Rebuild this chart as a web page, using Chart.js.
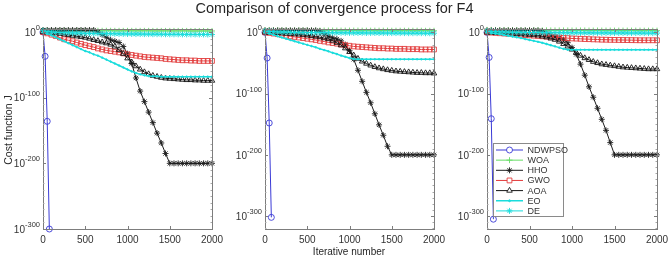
<!DOCTYPE html>
<html>
<head>
<meta charset="utf-8">
<script src="https://cdn.jsdelivr.net/npm/chart.js@4.4.1/dist/chart.umd.min.js"></script>
<style>
  body { margin: 0; background: #fff; }
  #wrap { position: relative; width: 669px; height: 257px; overflow: hidden; font-family: "Liberation Sans", Arial, sans-serif; color: #262626; }
  #wrap canvas { position: absolute; left: 0; top: 0; }
  .lbl { position: absolute; white-space: nowrap; }
  #title { left: 0; top: 0; width: 669px; text-align: center; font-size: 14.5px; }
  #xlabel { left: 289px; top: 245.5px; width: 120px; text-align: center; font-size: 10px; line-height: 11px; }
  #ylabel { left: -52px; top: 124px; width: 120px; text-align: center; font-size: 10.5px; transform: rotate(-90deg); }
</style>
</head>
<body>
<div id="wrap">
  <canvas id="run1" width="669" height="257"></canvas>
  <canvas id="run2" width="669" height="257"></canvas>
  <canvas id="run3" width="669" height="257"></canvas>
  <div class="lbl" id="title">Comparison of convergence process for F4</div>
  <div class="lbl" id="xlabel">Iterative number</div>
  <div class="lbl" id="ylabel">Cost function J</div>
</div>
<script>
// iterations where the curves are sampled (markers drawn at each)
const iterations = [0,50,100,150,200,250,300,350,400,450,500,550,600,650,700,750,800,850,900,950,1000,
  1050,1100,1150,1200,1250,1300,1350,1400,1450,1500,1550,1600,1650,1700,1750,1800,1850,1900,1950,2000];
const ndwpsoIterations = [0, 25, 50, 75];

const xTicks = [0, 500, 1000, 1500, 2000];
const yTickExponents = [0, -100, -200, -300];

const algorithms = ['NDWPSO', 'WOA', 'HHO', 'GWO', 'AOA', 'EO', 'DE'];

// values are log10 of the cost function J
// ---- run 1 (left panel)
const run1NDWPSO = [0, -37, -136, -300];
const run1WOA = [2.5,2.4,2.3,2.2,2.2,2.1,2.1,2.0,2.0,2.0, 2.0,1.9,1.9,1.9,1.9,1.9,1.9,1.8,1.8,1.8,
  1.8,1.8,1.8,1.8,1.8,1.8,1.7,1.7,1.7,1.7, 1.7,1.7,1.7,1.7,1.7,1.6,1.6,1.6,1.6,1.6, 1.6];
const run1HHO = [3,3,3,3,3,3,3,3,3,3, 3,3,3,0,-4,-8,-12,-14,-16,-22,
  -33,-48,-70,-90,-106,-122,-138,-154,-169,-185, -200,-200,-200,-200,-200,-200,-200,-200,-200,-200, -200];
const run1GWO = [0,-2,-4,-6,-8.5,-11,-12.5,-14,-16,-18, -20,-21.5,-23,-25,-26.5,-28,-29,-30,-31,-32.5,
  -34,-35,-36,-37,-38,-38.5,-39,-39.5,-40,-41, -41.5,-42,-42.5,-43,-43,-43.5,-43.5,-44,-44,-44, -44];
const run1AOA = [0,-0.5,-1,-1.5,-2.5,-3.5,-4.5,-5.5,-6.5,-7.5, -8.5,-10,-12,-13.5,-15.5,-17,-19,-22,-27,-33,
  -40,-46,-52,-57,-61,-64,-66.5,-68,-69.5,-70.5, -71,-71.5,-72,-72.5,-73,-73,-73.5,-73.5,-74,-74, -74];
const run1EO = [0,-2.5,-5,-8,-11,-14,-17,-20,-23,-26, -29,-31,-34,-36,-39,-42,-45,-48,-51,-54,
  -57,-60,-62.5,-64.5,-66,-67,-67.5,-67.5,-68,-68, -68,-68,-68,-68,-68,-68,-68,-68,-68,-68, -68];
const run1DE = [2,0.5,0,-0.5,-0.8,-1,-1.2,-1.4,-1.6,-1.8, -2,-2.1,-2.2,-2.3,-2.4,-2.5,-2.6,-2.7,-2.8,-2.9,
  -3,-3,-3.1,-3.1,-3.2,-3.2,-3.3,-3.3,-3.4,-3.4, -3.5,-3.5,-3.5,-3.6,-3.6,-3.6,-3.7,-3.7,-3.7,-3.8, -3.8];

// ---- run 2 (middle panel)
const run2NDWPSO = [0, -42, -148, -302];
const run2WOA = [3.5,3.4,3.3,3.3,3.2,3.2,3.1,3.1,3.0,3.0, 3.0,3.0,2.9,2.9,2.9,2.9,2.9,2.8,2.8,2.8,
  2.8,2.8,2.8,2.7,2.7,2.7,2.7,2.7,2.7,2.7, 2.6,2.6,2.6,2.6,2.6,2.6,2.6,2.6,2.5,2.5, 2.5];
const run2HHO = [3,3,3,3,3,3,3,3,3,3, 3,3,3,2,-2,-6,-9,-11,-14,-20,
  -30,-44,-62,-80,-98,-115,-133,-151,-168,-186, -200,-200,-200,-200,-200,-200,-200,-200,-200,-200, -200];
const run2GWO = [0,-1,-2,-3,-4.5,-5.5,-6.5,-7.5,-8.5,-9.5, -10.5,-11.5,-12.5,-14,-15,-16.5,-17.5,-18.5,-20,-21,
  -22,-23,-23.5,-24,-24.5,-25,-25.5,-26,-26,-26.5, -26.5,-27,-27,-27,-27.5,-27.5,-27.5,-28,-28,-28, -28];
const run2AOA = [0,-0.5,-0.5,-1,-1.5,-2,-2.5,-3,-3.5,-4, -5,-6,-7,-8,-9.5,-11,-13.5,-17,-21,-26,
  -32,-37.5,-43,-47.5,-51,-54,-56.5,-58.5,-60,-61.5, -62.5,-63.5,-64,-64.5,-65,-65.5,-66,-66,-66.5,-66.5, -67];
const run2EO = [0,-2,-4,-6.5,-8.5,-10.5,-12.5,-14.5,-16.5,-18.5, -20.5,-22.5,-24.5,-27,-29,-31,-33.5,-35.5,-38,-40,
  -42,-43.5,-44,-44,-44,-44,-44,-44,-44,-44, -44,-44,-44,-44,-44,-44,-44,-44,-44,-44, -44];
const run2DE = [2,1.5,1,0.6,0.4,0.2,0,-0.1,-0.2,-0.3, -0.4,-0.5,-0.5,-0.6,-0.6,-0.7,-0.7,-0.8,-0.8,-0.9,
  -0.9,-1,-1,-1,-1.1,-1.1,-1.1,-1.2,-1.2,-1.2, -1.3,-1.3,-1.3,-1.3,-1.4,-1.4,-1.4,-1.4,-1.5,-1.5, -1.5];

// ---- run 3 (right panel)
const run3NDWPSO = [0, -41, -141, -305];
const run3WOA = [4,3.9,3.8,3.7,3.6,3.5,3.5,3.4,3.4,3.3, 3.3,3.3,3.2,3.2,3.2,3.1,3.1,3.1,3.1,3.0,
  3.0,3.0,3.0,3.0,2.9,2.9,2.9,2.9,2.9,2.9, 2.8,2.8,2.8,2.8,2.8,2.8,2.8,2.7,2.7,2.7, 2.7];
const run3HHO = [3,3,3,3,3,3,3,3,3,3, 3,3,3,2,-1,-4,-7,-9,-12,-17,
  -25,-36,-52,-70,-89,-106,-124,-142,-160,-180, -200,-200,-200,-200,-200,-200,-200,-200,-200,-200, -200];
const run3GWO = [0,-0.5,-1,-1.5,-2,-2.5,-3,-3.5,-4,-4.5, -5,-5.5,-6,-6.5,-7,-7.5,-8,-8.5,-9,-9.5,
  -10,-10.3,-10.6,-11,-11.2,-11.5,-11.7,-12,-12.1,-12.3, -12.4,-12.5,-12.6,-12.7,-12.8,-12.9,-13,-13,-13,-13, -13];
const run3AOA = [0,-0.3,-0.6,-1,-1.3,-1.7,-2,-2.5,-3,-3.5, -4,-4.5,-5,-6.5,-8,-10,-12,-15,-19,-23,
  -28,-33,-38,-42,-45,-48,-50,-52,-53,-54, -55,-56,-57,-57.5,-58,-58.5,-59,-59.5,-60,-60, -60];
const run3EO = [0,-1,-2,-3.2,-4.5,-5.7,-7,-8.2,-9.5,-11, -12.5,-14,-15.5,-17.2,-19,-21,-23,-25,-27,-28.3,
  -28.5,-28.5,-28.5,-28.5,-28.5,-28.5,-28.5,-28.5,-28.5,-28.5, -28.5,-28.5,-28.5,-28.5,-28.5,-28.5,-28.5,-28.5,-28.5,-28.5, -28.5];
const run3DE = [2,1.4,1,0.7,0.5,0.3,0.1,0,-0.1,-0.2, -0.3,-0.4,-0.4,-0.5,-0.5,-0.6,-0.6,-0.7,-0.7,-0.8,
  -0.8,-0.8,-0.9,-0.9,-0.9,-1,-1,-1,-1,-1.1, -1.1,-1.1,-1.1,-1.2,-1.2,-1.2,-1.2,-1.3,-1.3,-1.3, -1.3];

const runs = [
  { id: 'run1', NDWPSO: run1NDWPSO, WOA: run1WOA, HHO: run1HHO, GWO: run1GWO, AOA: run1AOA, EO: run1EO, DE: run1DE },
  { id: 'run2', NDWPSO: run2NDWPSO, WOA: run2WOA, HHO: run2HHO, GWO: run2GWO, AOA: run2AOA, EO: run2EO, DE: run2DE },
  { id: 'run3', NDWPSO: run3NDWPSO, WOA: run3WOA, HHO: run3HHO, GWO: run3GWO, AOA: run3AOA, EO: run3EO, DE: run3DE }
];

// plot boxes (pixels) and y range (exponents) for each panel
const panels = [
  { left: 43, right: 212, top: 29, bottom: 229, yMin: -300, yMax: 4.6 },
  { left: 265, right: 434, top: 29, bottom: 229, yMin: -321, yMax: 5.4 },
  { left: 487, right: 657, top: 29, bottom: 229, yMin: -321, yMax: 5.4 }
];

const styles = {
  NDWPSO: { color: '#3a3ad6', pointStyle: 'circle', radius: 3, width: 1 },
  WOA:    { color: '#66dd66', pointStyle: 'cross', radius: 3, width: 1 },
  HHO:    { color: '#1c1c1c', pointStyle: 'star', radius: 3, width: 1 },
  GWO:    { color: '#e23c3c', pointStyle: 'rect', radius: 3.4, width: 1 },
  AOA:    { color: '#151515', pointStyle: 'triangle', radius: 3.2, width: 1 },
  EO:     { color: '#1adcdc', pointStyle: 'circle', radius: 0.8, width: 1.5, filled: true },
  DE:     { color: '#1adcdc', pointStyle: 'star', radius: 3, width: 1 }
};

const FONT = '"Liberation Sans", Arial, sans-serif';
const AXIS_COLOR = '#7d7d7d';
const TEXT_COLOR = '#333333';

const matlabAxes = {
  id: 'matlabAxes',
  afterDraw(chart) {
    const { ctx, chartArea: a } = chart;
    const x = chart.scales.x, y = chart.scales.y;
    ctx.save();
    ctx.strokeStyle = AXIS_COLOR;
    ctx.lineWidth = 1;
    ctx.strokeRect(a.left + 0.5, a.top + 0.5, a.right - a.left, a.bottom - a.top);
    ctx.beginPath();
    xTicks.forEach(v => {
      const px = Math.round(x.getPixelForValue(v)) + 0.5;
      ctx.moveTo(px, a.bottom); ctx.lineTo(px, a.bottom - 3);
      ctx.moveTo(px, a.top); ctx.lineTo(px, a.top + 3);
    });
    yTickExponents.forEach(v => {
      const py = Math.round(y.getPixelForValue(v)) + 0.5;
      ctx.moveTo(a.left, py); ctx.lineTo(a.left + 3, py);
      ctx.moveTo(a.right, py); ctx.lineTo(a.right - 3, py);
    });
    ctx.stroke();
    // minor ticks, every 10 decades
    ctx.beginPath();
    ctx.strokeStyle = '#a8a8a8';
    for (let e = 0; e >= y.min; e -= 10) {
      if (e % 100 === 0) continue;
      const py = Math.round(y.getPixelForValue(e)) + 0.5;
      ctx.moveTo(a.left, py); ctx.lineTo(a.left + 1.5, py);
      ctx.moveTo(a.right, py); ctx.lineTo(a.right - 1.5, py);
    }
    ctx.stroke();

    ctx.fillStyle = TEXT_COLOR;
    ctx.font = '10px ' + FONT;
    ctx.textAlign = 'center';
    ctx.textBaseline = 'middle';
    xTicks.forEach(v => ctx.fillText(String(v), x.getPixelForValue(v), a.bottom + 11.5));

    ctx.textAlign = 'right';
    yTickExponents.forEach(v => {
      const py = y.getPixelForValue(v);
      const sup = String(v);
      ctx.font = '7.5px ' + FONT;
      const sw = ctx.measureText(sup).width;
      ctx.fillText(sup, a.left - 3, py - 4);
      ctx.font = '10px ' + FONT;
      ctx.fillText('10', a.left - 3 - sw, py + 1);
    });
    ctx.restore();
  }
};

const legendBox = {
  id: 'legendBox',
  afterDraw(chart, args, opts) {
    if (!opts.show) return;
    const { ctx } = chart;
    const bx = 493.5, by = 143.5, bw = 70, bh = 73, rowH = 10.15;
    ctx.save();
    ctx.fillStyle = '#ffffff';
    ctx.fillRect(bx, by, bw, bh);
    ctx.strokeStyle = '#8a8a8a';
    ctx.lineWidth = 1;
    ctx.strokeRect(bx, by, bw, bh);
    algorithms.forEach((name, i) => {
      const s = styles[name];
      const cy = by + 6.5 + i * rowH;
      ctx.strokeStyle = s.color;
      ctx.fillStyle = s.color;
      ctx.lineWidth = s.width;
      ctx.beginPath();
      ctx.moveTo(bx + 2.5, cy); ctx.lineTo(bx + 29.5, cy);
      ctx.stroke();
      ctx.lineWidth = 0.9;
      if (!s.filled) ctx.fillStyle = '#ffffff';
      Chart.helpers.drawPoint(ctx, { pointStyle: s.pointStyle, radius: s.filled ? 1 : s.radius, borderWidth: 0.9, rotation: 0 }, bx + 16, cy);
      ctx.fillStyle = TEXT_COLOR;
      ctx.font = '9px ' + FONT;
      ctx.textAlign = 'left';
      ctx.textBaseline = 'middle';
      ctx.fillText(name, bx + 34, cy + 0.5);
    });
    ctx.restore();
  }
};

runs.forEach((run, k) => {
  const p = panels[k];
  const datasets = algorithms.map((name, i) => {
    const s = styles[name];
    const xs = name === 'NDWPSO' ? ndwpsoIterations : iterations;
    return {
      label: name,
      data: run[name].map((v, j) => ({ x: xs[j], y: v })),
      borderColor: s.color,
      borderWidth: s.width,
      backgroundColor: s.filled ? s.color : 'rgba(255,255,255,0)',
      pointStyle: s.pointStyle,
      pointRadius: s.radius,
      pointBorderWidth: 0.9,
      pointBorderColor: s.color,
      pointBackgroundColor: s.filled ? s.color : 'rgba(255,255,255,0)',
      tension: 0,
      clip: false,
      order: -i
    };
  });
  new Chart(document.getElementById(run.id), {
    type: 'line',
    data: { datasets },
    options: {
      responsive: false,
      animation: false,
      events: [],
      layout: { padding: { left: p.left, right: 669 - p.right, top: p.top, bottom: 257 - p.bottom } },
      scales: {
        x: { type: 'linear', display: false, min: 0, max: 2000 },
        y: { type: 'linear', display: false, min: p.yMin, max: p.yMax }
      },
      plugins: {
        legend: { display: false },
        tooltip: { enabled: false },
        legendBox: { show: k === 2 }
      }
    },
    plugins: [matlabAxes, legendBox]
  });
});
</script>
</body>
</html>
